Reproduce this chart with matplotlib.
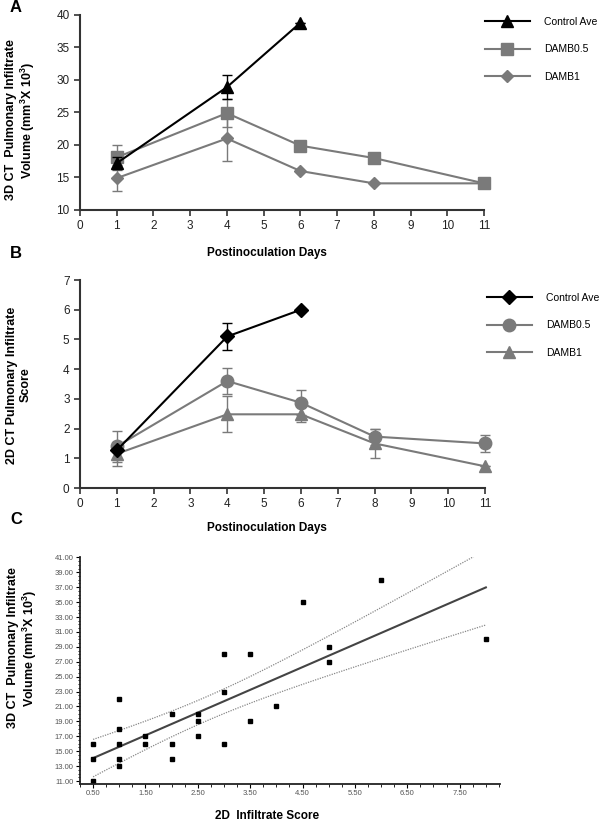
import numpy as np
import matplotlib
matplotlib.use("Agg")
import matplotlib.pyplot as plt
from matplotlib.lines import Line2D
from matplotlib.ticker import MultipleLocator, FormatStrFormatter

plt.rcParams['font.family'] = ['Liberation Sans', 'DejaVu Sans']
plt.rcParams['mathtext.default'] = 'regular'

# panel A: 3D CT volume vs day
days_a_ctrl = [1, 4, 6]
vol_ctrl = [17.2, 28.9, 38.8]
vol_ctrl_err = [0.9, 1.8, 0]
days_a = [1, 4, 6, 8, 11]
vol_damb05 = [18.1, 24.9, 19.9, 18.0, 14.1]
vol_damb05_err = [1.9, 2.2, 0, 0, 0]
vol_damb1 = [14.9, 21.0, 16.0, 14.1, 14.1]
vol_damb1_err = [2.0, 3.5, 0, 0, 0]

# panel B: 2D CT score vs day
days_b_ctrl = [1, 4, 6]
score_ctrl = [1.27, 5.1, 6.0]
score_ctrl_err = [0, 0.45, 0]
days_b = [1, 4, 6, 8, 11]
score_damb05 = [1.4, 3.6, 2.87, 1.73, 1.5]
score_damb05_err = [0.53, 0.45, 0.42, 0.27, 0.28]
score_damb1 = [1.15, 2.48, 2.48, 1.5, 0.73]
score_damb1_err = [0.4, 0.6, 0.27, 0.5, 0]

# panel C: 2D score vs 3D volume
score_2d = [0.5, 0.5, 0.5, 1, 1, 1, 1, 1, 1.5, 1.5, 2, 2, 2, 2.5, 2.5, 2.5,
            3, 3, 3, 3.5, 3.5, 4, 4.5, 5, 5, 6, 8]
vol_3d = [16, 14, 11, 22, 18, 16, 14, 13, 17, 16, 20, 16, 14, 20, 19, 17,
          28, 23, 16, 28, 19, 21, 35, 29, 27, 38, 30]

GRAY = '#7a7a7a'
AXC = '#333333'

fig = plt.figure(figsize=(6, 8.21), dpi=100)
W, H = 600, 821


def box(l, t, r, b):
    return [l / W, 1 - b / H, (r - l) / W, (b - t) / H]


def style_axes(ax, lw=1.5):
    for s in ['top', 'right']:
        ax.spines[s].set_visible(False)
    for s in ['left', 'bottom']:
        ax.spines[s].set_color(AXC)
        ax.spines[s].set_linewidth(lw)
    ax.tick_params(colors=AXC, labelcolor='#222222', width=1.2, length=4, labelsize=8.5)


# ---- A ----
axA = fig.add_axes(box(80, 15, 484, 210))
axA.errorbar(days_a, vol_damb05, yerr=vol_damb05_err, color=GRAY, marker='s', ms=8,
             lw=1.5, capsize=3.5, elinewidth=1, ecolor=GRAY, zorder=2)
axA.errorbar(days_a, vol_damb1, yerr=vol_damb1_err, color=GRAY, marker='D', ms=6.5,
             lw=1.5, capsize=3.5, elinewidth=1, ecolor=GRAY, zorder=2)
axA.errorbar(days_a_ctrl, vol_ctrl, yerr=vol_ctrl_err, color='black', marker='^', ms=9,
             lw=1.5, capsize=3.5, elinewidth=1, zorder=3)
axA.set_xlim(0, 11)
axA.set_ylim(10, 40)
axA.set_xticks(range(0, 12))
axA.set_yticks(range(10, 41, 5))
style_axes(axA)
for art in axA.get_children():
    art.set_clip_on(False)

hA = [Line2D([], [], color='black', marker='^', ms=9, lw=1.5),
      Line2D([], [], color=GRAY, marker='s', ms=8, lw=1.5),
      Line2D([], [], color=GRAY, marker='D', ms=6.5, lw=1.5)]
fig.legend(hA, ['Control Ave', 'DAMB0.5', 'DAMB1'], loc='upper left',
           bbox_to_anchor=(485 / W, 1 - 17 / H), frameon=False, fontsize=7.5,
           handlelength=4.3, handletextpad=1.4, labelspacing=1.68, borderpad=0,
           borderaxespad=0)

# ---- B ----
axB = fig.add_axes(box(80, 280, 485, 488))
axB.errorbar(days_b, score_damb05, yerr=score_damb05_err, color=GRAY, marker='o', ms=9,
             lw=1.5, capsize=3.5, elinewidth=1, ecolor=GRAY, zorder=2)
axB.errorbar(days_b, score_damb1, yerr=score_damb1_err, color=GRAY, marker='^', ms=9,
             lw=1.5, capsize=3.5, elinewidth=1, ecolor=GRAY, zorder=2)
axB.errorbar(days_b_ctrl, score_ctrl, yerr=score_ctrl_err, color='black', marker='D', ms=7,
             lw=1.5, capsize=3.5, elinewidth=1, zorder=3)
axB.set_xlim(0, 11)
axB.set_ylim(0, 7)
axB.set_xticks(range(0, 12))
axB.set_yticks(range(0, 8))
style_axes(axB)
for art in axB.get_children():
    art.set_clip_on(False)

hB = [Line2D([], [], color='black', marker='D', ms=7, lw=1.5),
      Line2D([], [], color=GRAY, marker='o', ms=9, lw=1.5),
      Line2D([], [], color=GRAY, marker='^', ms=9, lw=1.5)]
fig.legend(hB, ['Control Ave', 'DAMB0.5', 'DAMB1'], loc='upper left',
           bbox_to_anchor=(487 / W, 1 - 293 / H), frameon=False, fontsize=7.5,
           handlelength=4.3, handletextpad=1.4, labelspacing=1.68, borderpad=0,
           borderaxespad=0)

# ---- C ----
axC = fig.add_axes(box(80, 557, 500, 784))
x = np.array(score_2d, dtype=float)
y = np.array(vol_3d, dtype=float)
slope, icpt = np.polyfit(x, y, 1)
n = len(x)
resid = y - (slope * x + icpt)
s = np.sqrt(np.sum(resid ** 2) / (n - 2))
xs = np.linspace(x.min(), x.max(), 100)
ys = slope * xs + icpt
half = 2.06 * s * np.sqrt(1 / n + (xs - x.mean()) ** 2 / np.sum((x - x.mean()) ** 2))
axC.plot(xs, ys, color='#444444', lw=1.5)
axC.plot(xs, ys + half, color='#888888', lw=0.9, ls=(0, (1, 1)))
axC.plot(xs, ys - half, color='#888888', lw=0.9, ls=(0, (1, 1)))
axC.plot(x, y, 's', color='black', ms=2.5, ls='none')
axC.set_xlim(0.25, 8.27)
axC.set_ylim(10.6, 41.05)
axC.set_xticks(np.arange(0.5, 8, 1.0))
axC.xaxis.set_minor_locator(MultipleLocator(0.25))
axC.set_yticks(np.arange(11, 42, 2))
axC.yaxis.set_minor_locator(MultipleLocator(0.5))
axC.xaxis.set_major_formatter(FormatStrFormatter('%.2f'))
axC.yaxis.set_major_formatter(FormatStrFormatter('%.2f'))
for sname in ['top', 'right']:
    axC.spines[sname].set_visible(False)
for sname in ['left', 'bottom']:
    axC.spines[sname].set_linewidth(1.3)
    axC.spines[sname].set_color('#222222')
axC.tick_params(which='major', length=3, width=0.8, labelsize=5.5, labelcolor='#555555', pad=1.5)
axC.tick_params(which='minor', length=1.8, width=0.6)

# ---- text ----
fig.text(10 / W, 1 - 8 / H, 'A', fontsize=12, fontweight='bold', va='center')
fig.text(10 / W, 1 - 253 / H, 'B', fontsize=12, fontweight='bold', va='center')
fig.text(10 / W, 1 - 519 / H, 'C', fontsize=12, fontweight='bold', va='center')

fig.text(267 / W, 1 - 253 / H, 'Postinoculation Days', fontsize=8.5, fontweight='bold',
         ha='center', va='center')
fig.text(267 / W, 1 - 528 / H, 'Postinoculation Days', fontsize=8.5, fontweight='bold',
         ha='center', va='center')
fig.text(267 / W, 1 - 816 / H, '2D  Infiltrate Score', fontsize=8.5, fontweight='bold',
         ha='center', va='center')

fig.text(21 / W, 1 - 120 / H, '3D CT  Pulmonary Infiltrate\nVolume (mm$^3$X 10$^3$)',
         fontsize=9, fontweight='bold', rotation=90, ha='center', va='center',
         multialignment='center')
fig.text(19 / W, 1 - 385 / H, '2D CT Pulmonary Infiltrate\nScore',
         fontsize=9, fontweight='bold', rotation=90, ha='center', va='center',
         multialignment='center')
fig.text(23 / W, 1 - 648 / H, '3D CT  Pulmonary Infiltrate\nVolume (mm$^3$X 10$^3$)',
         fontsize=9, fontweight='bold', rotation=90, ha='center', va='center',
         multialignment='center')

fig.savefig('out.png', dpi=100)
